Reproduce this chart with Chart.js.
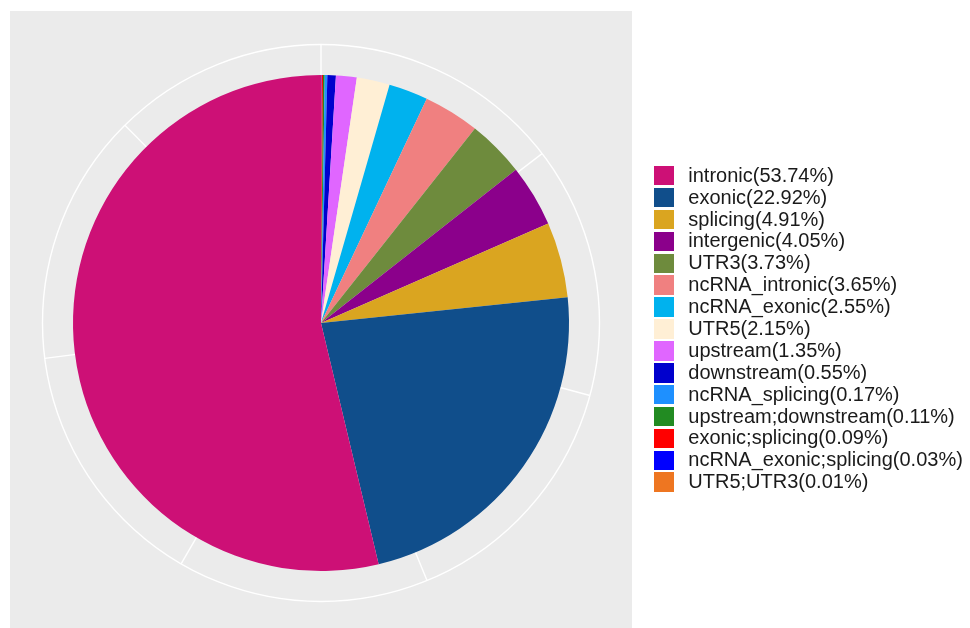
<!DOCTYPE html>
<html>
<head>
<meta charset="utf-8">
<script src="https://cdn.jsdelivr.net/npm/chart.js@4.4.1/dist/chart.umd.min.js"></script>
<style>
  html, body { margin: 0; padding: 0; background: #ffffff; }
  #wrap { position: relative; width: 970px; height: 628px; overflow: hidden; }
  #chart-box { position: absolute; left: 0; top: 0; width: 970px; height: 628px; }
  #legend { position: absolute; left: 654px; top: 164.8px; font-family: "Liberation Sans", Arial, sans-serif; font-size: 20px; color: #1a1a1a; }
  .row { display: flex; align-items: center; height: 21.9px; line-height: 21.9px; white-space: nowrap; }
  .key { width: 19.5px; height: 19.5px; margin-right: 14.8px; flex: none; }
</style>
</head>
<body>
<div id="wrap">
  <div id="chart-box"><canvas id="pie-chart"></canvas></div>
  <div id="legend"></div>
</div>
<script>
  // legend order (ggplot factor levels)
  var categories = ['intronic', 'exonic', 'splicing', 'intergenic', 'UTR3', 'ncRNA_intronic',
    'ncRNA_exonic', 'UTR5', 'upstream', 'downstream', 'ncRNA_splicing', 'upstream;downstream',
    'exonic;splicing', 'ncRNA_exonic;splicing', 'UTR5;UTR3'];
  var percents = [53.74, 22.92, 4.91, 4.05, 3.73, 3.65, 2.55, 2.15, 1.35, 0.55, 0.17, 0.11, 0.09, 0.03, 0.01];
  var colors = ['#CD1076', '#104E8B', '#DAA520', '#8B008B', '#6E8B3D', '#F08080',
    '#00B2EE', '#FFEFD5', '#E066FF', '#0000CD', '#1E90FF', '#228B22',
    '#FF0000', '#0000FF', '#EE7621'];

  // theta axis grid (white spokes), degrees clockwise from top
  var gridStepDeg = 52.54;
  var gridCount = 7;

  // slices run clockwise from 12 o'clock in reverse legend order
  var sliceLabels = categories.slice().reverse();
  var sliceValues = percents.slice().reverse();
  var sliceColors = colors.slice().reverse();

  var panelPlugin = {
    id: 'panel',
    beforeDatasetsDraw: function (chart) {
      var ctx = chart.ctx;
      var arc = chart.getDatasetMeta(0).data[0];
      if (!arc) return;
      var cx = arc.x, cy = arc.y;
      var outer = arc.outerRadius * 1.123;
      ctx.save();
      ctx.fillStyle = '#EBEBEB';
      ctx.fillRect(10, 11, 622, 620);
      ctx.strokeStyle = '#FFFFFF';
      ctx.lineWidth = 1.4;
      ctx.beginPath();
      ctx.arc(cx, cy, outer, 0, Math.PI * 2);
      ctx.stroke();
      for (var i = 0; i < gridCount; i++) {
        var a = (i * gridStepDeg - 90) * Math.PI / 180;
        ctx.beginPath();
        ctx.moveTo(cx, cy);
        ctx.lineTo(cx + outer * Math.cos(a), cy + outer * Math.sin(a));
        ctx.stroke();
      }
      ctx.restore();
    }
  };

  new Chart(document.getElementById('pie-chart'), {
    type: 'pie',
    data: {
      labels: sliceLabels,
      datasets: [{
        data: sliceValues,
        backgroundColor: sliceColors,
        borderWidth: 0,
        hoverOffset: 0,
        radius: 248
      }]
    },
    options: {
      responsive: true,
      maintainAspectRatio: false,
      animation: false,
      rotation: 0,
      layout: { padding: { left: 0, right: 328, top: 18, bottom: 0 } },
      plugins: {
        legend: { display: false },
        tooltip: { enabled: false }
      }
    },
    plugins: [panelPlugin]
  });

  var legendEl = document.getElementById('legend');
  for (var i = 0; i < categories.length; i++) {
    var row = document.createElement('div');
    row.className = 'row';
    var key = document.createElement('span');
    key.className = 'key';
    key.style.background = colors[i];
    var txt = document.createElement('span');
    txt.textContent = categories[i] + '(' + percents[i].toFixed(2) + '%)';
    row.appendChild(key);
    row.appendChild(txt);
    legendEl.appendChild(row);
  }
</script>
</body>
</html>
